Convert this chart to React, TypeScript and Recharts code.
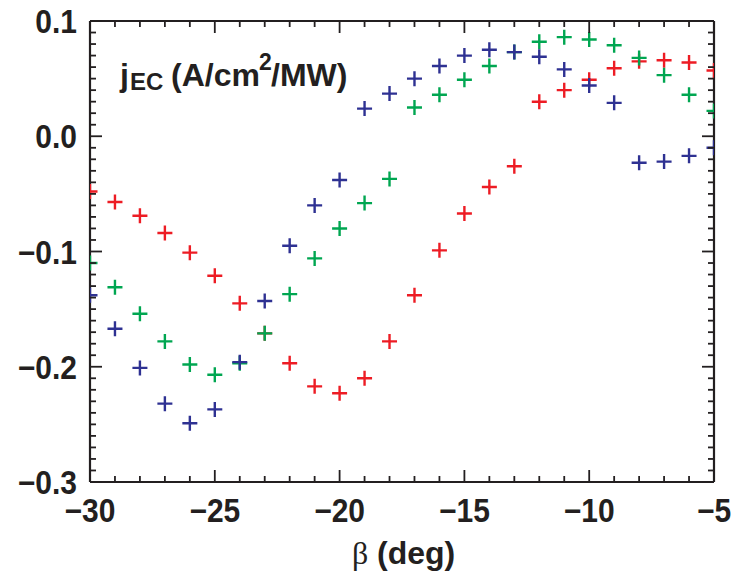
import React from "react";
import { ScatterChart, Scatter, XAxis, YAxis, Customized } from "recharts";

// Launch angle β (deg) of each sample
const betas = [
  -30, -29, -28, -27, -26, -25, -24, -23, -22, -21, -20, -19, -18,
  -17, -16, -15, -14, -13, -12, -11, -10, -9, -8, -7, -6, -5,
];

// Driven current density j_EC (A/cm²/MW) for the three cases
const redSeries = [
  -0.048, -0.057, -0.069, -0.084, -0.101, -0.121, -0.145, -0.171, -0.197,
  -0.217, -0.223, -0.21, -0.178, -0.138, -0.099, -0.067, -0.044, -0.026,
  0.03, 0.04, 0.049, 0.059, 0.065, 0.066, 0.064, 0.057,
];
const greenSeries = [
  -0.11, -0.131, -0.154, -0.178, -0.198, -0.207, -0.197, -0.171, -0.137,
  -0.106, -0.08, -0.058, -0.037, 0.025, 0.036, 0.049, 0.061, 0.073, 0.082,
  0.086, 0.084, 0.079, 0.068, 0.053, 0.036, 0.022,
];
const blueSeries = [
  -0.138, -0.167, -0.201, -0.232, -0.249, -0.237, -0.196, -0.143, -0.095,
  -0.06, -0.038, 0.024, 0.037, 0.05, 0.061, 0.07, 0.075, 0.073, 0.069,
  0.058, 0.044, 0.029, -0.023, -0.022, -0.017, -0.01,
];

// Axis ticks: every degree / every 0.01, labelled on the major ones
const xTicks = betas;
const xLabelTicks = [-30, -25, -20, -15, -10, -5];
const yTicks = Array.from({ length: 41 }, (_, i) => (i - 30) / 100);
const yLabelTicks = [-0.3, -0.2, -0.1, 0.0, 0.1];

const RED = "#ed1c24";
const GREEN = "#00a651";
const BLUE = "#2e3192";
const INK = "#231f20";
const FONT = "'Liberation Sans', Arial, Helvetica, sans-serif";

const toPoints = (ys: number[]) => betas.map((b, i) => ({ b, j: ys[i] }));

const isMajorX = (v: number) => xLabelTicks.includes(v);
const isMajorY = (v: number) =>
  yLabelTicks.some((t) => Math.abs(t - v) < 1e-9);

const fmtX = (v: number) => (v < 0 ? "\u2212" + Math.abs(v) : String(v));
const fmtY = (v: number) => {
  if (Math.abs(v) < 1e-9) return "0.0";
  const s = Math.abs(v).toFixed(1);
  return v < 0 ? "\u2212" + s : s;
};

const MAJOR = 12;
const MINOR = 6;

// Tick labels use slightly tall bold glyphs
const TickLabel = ({ x, y, anchor, children }: any) => (
  <text
    transform={`translate(${x},${y}) scale(1,1.09)`}
    x={0}
    y={0}
    textAnchor={anchor}
    fontFamily={FONT}
    fontWeight="bold"
    fontSize={30}
    fill={INK}
  >
    {children}
  </text>
);

const BottomTick = (props: any) => {
  const { x, y, payload } = props;
  const v = payload.value as number;
  const major = isMajorX(v);
  return (
    <g>
      <line x1={x} x2={x} y1={y} y2={y - (major ? MAJOR : MINOR)} stroke={INK} strokeWidth={1.8} />
      {major && (
        <TickLabel x={x} y={y + 40} anchor="middle">
          {fmtX(v)}
        </TickLabel>
      )}
    </g>
  );
};

const TopTick = (props: any) => {
  const { x, y, payload } = props;
  const major = isMajorX(payload.value);
  return <line x1={x} x2={x} y1={y} y2={y + (major ? MAJOR : MINOR)} stroke={INK} strokeWidth={1.8} />;
};

const LeftTick = (props: any) => {
  const { x, y, payload } = props;
  const v = payload.value as number;
  const major = isMajorY(v);
  return (
    <g>
      <line x1={x} x2={x + (major ? MAJOR : MINOR)} y1={y} y2={y} stroke={INK} strokeWidth={1.8} />
      {major && (
        <TickLabel x={x - 13} y={y + 12} anchor="end">
          {fmtY(v)}
        </TickLabel>
      )}
    </g>
  );
};

const RightTick = (props: any) => {
  const { x, y, payload } = props;
  const major = isMajorY(payload.value);
  return <line x1={x} x2={x - (major ? MAJOR : MINOR)} y1={y} y2={y} stroke={INK} strokeWidth={1.8} />;
};

const plusShape = (color: string) => (props: any) => {
  const { cx, cy } = props;
  const h = 7.5;
  return (
    <path
      d={`M${cx - h},${cy}H${cx + h}M${cx},${cy - h}V${cy + h}`}
      stroke={color}
      strokeWidth={2.4}
      fill="none"
    />
  );
};

const Annotations = () => (
  <g fontFamily={FONT} fill={INK}>
    <text y={86} fontWeight="bold" fontSize={32}>
      <tspan x={120}>j</tspan>
      <tspan x={130} y={90} fontSize={24}>EC</tspan>
      <tspan x={171} y={86}>(A/cm</tspan>
      <tspan x={259} y={70} fontSize={23}>2</tspan>
      <tspan x={271} y={86}>/MW)</tspan>
    </text>
    <text y={564} fontSize={32}>
      <tspan x={352} fontFamily="'Liberation Serif', 'DejaVu Serif', serif">β</tspan>
      <tspan x={377} fontWeight="bold">(deg)</tspan>
    </text>
  </g>
);

const axisLineStyle = { stroke: INK, strokeWidth: 2.2 };

export default function App() {
  return (
    <div style={{ position: "absolute", left: 0, top: 0, background: "#fff" }}>
      <ScatterChart
        width={732}
        height={577}
        margin={{ top: 11, right: 8, bottom: 35, left: 10 }}
      >
        <XAxis
          xAxisId="b"
          type="number"
          dataKey="b"
          domain={[-30, -5]}
          ticks={xTicks}
          interval={0}
          allowDataOverflow
          height={60}
          tickSize={0}
          tickMargin={0}
          tickLine={false}
          axisLine={axisLineStyle}
          tick={<BottomTick />}
        />
        <XAxis
          xAxisId="t"
          orientation="top"
          type="number"
          dataKey="b"
          domain={[-30, -5]}
          ticks={xTicks}
          interval={0}
          allowDataOverflow
          height={10}
          tickSize={0}
          tickMargin={0}
          tickLine={false}
          axisLine={axisLineStyle}
          tick={<TopTick />}
        />
        <YAxis
          yAxisId="l"
          type="number"
          dataKey="j"
          domain={[-0.3, 0.1]}
          ticks={yTicks}
          interval={0}
          allowDataOverflow
          width={80}
          tickSize={0}
          tickMargin={0}
          tickLine={false}
          axisLine={axisLineStyle}
          tick={<LeftTick />}
        />
        <YAxis
          yAxisId="r"
          orientation="right"
          type="number"
          dataKey="j"
          domain={[-0.3, 0.1]}
          ticks={yTicks}
          interval={0}
          allowDataOverflow
          width={10}
          tickSize={0}
          tickMargin={0}
          tickLine={false}
          axisLine={axisLineStyle}
          tick={<RightTick />}
        />
        <Scatter xAxisId="b" yAxisId="l" data={toPoints(redSeries)} shape={plusShape(RED)} isAnimationActive={false} />
        <Scatter xAxisId="b" yAxisId="l" data={toPoints(greenSeries)} shape={plusShape(GREEN)} isAnimationActive={false} />
        <Scatter xAxisId="b" yAxisId="l" data={toPoints(blueSeries)} shape={plusShape(BLUE)} isAnimationActive={false} />
        <Customized component={Annotations} />
      </ScatterChart>
    </div>
  );
}
